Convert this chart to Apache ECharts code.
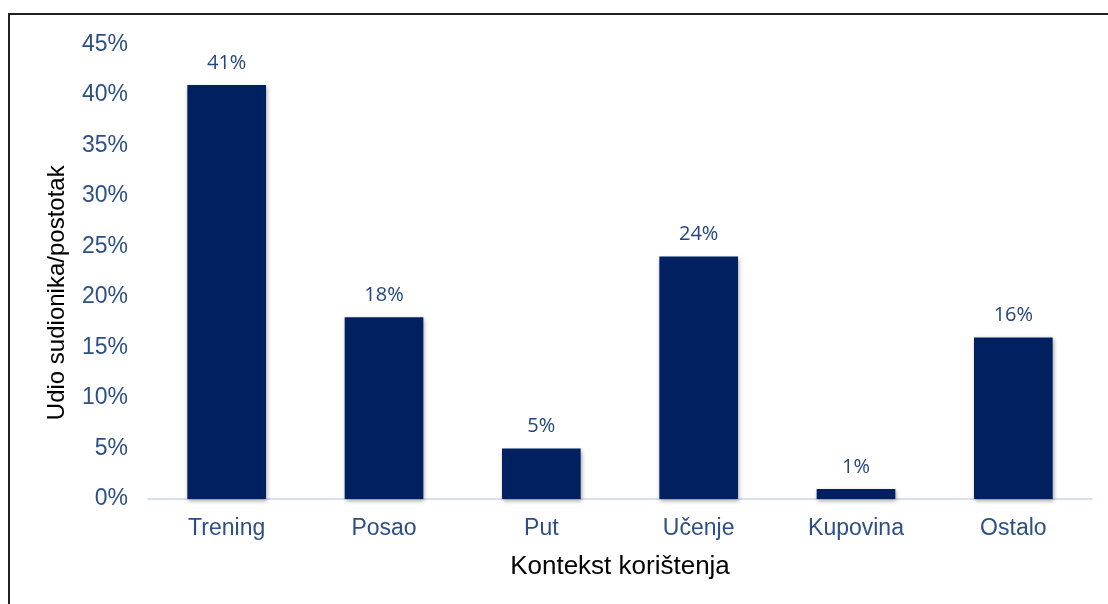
<!DOCTYPE html>
<html>
<head>
<meta charset="utf-8">
<script src="https://cdn.jsdelivr.net/npm/echarts@6/dist/echarts.min.js"></script>
<style>
  html, body { margin: 0; padding: 0; background: #fff; overflow: hidden; }
  #frame {
    position: absolute; left: 8px; top: 13px;
    width: 1200px; height: 700px;
    border: 2px solid #222;
  }
  #chart { position: absolute; left: 0; top: 0; width: 1108px; height: 604px; }
</style>
</head>
<body>
<div id="frame"></div>
<div id="chart"></div>
<script>
// kontekst korištenja (kategorije)
var categories = ["Trening", "Posao", "Put", "Učenje", "Kupovina", "Ostalo"];
// udio sudionika u postotcima
var shares = [41, 18, 5, 24, 1, 16];
var yMax = 45;
var yStep = 5;

var chart = echarts.init(document.getElementById("chart"));
chart.setOption({
  animation: false,
  grid: { left: 148, right: 16, top: 44.5, bottom: 105 },
  xAxis: {
    type: "category",
    data: categories,
    name: "Kontekst korištenja",
    nameLocation: "middle",
    nameGap: 55,
    nameTextStyle: { color: "#000", fontSize: 26, fontFamily: "Liberation Sans" },
    axisLine: { lineStyle: { color: "#d6e0f0", width: 2 } },
    axisTick: { show: false },
    axisLabel: { color: "#2c4f86", fontSize: 23, fontFamily: "Liberation Sans", margin: 18 }
  },
  yAxis: {
    type: "value",
    min: 0,
    max: yMax,
    interval: yStep,
    name: "Udio sudionika/postotak",
    nameLocation: "middle",
    nameGap: 79,
    nameTextStyle: { color: "#000", fontSize: 24, fontFamily: "Liberation Sans", padding: [0, 42, 0, 0] },
    splitLine: { show: false },
    axisLine: { show: false },
    axisTick: { show: false },
    axisLabel: {
      color: "#2c4f86", fontSize: 23, fontFamily: "Liberation Sans", margin: 20,
      formatter: "{value}%"
    }
  },
  series: [{
    type: "bar",
    data: shares,
    barCategoryGap: "50%",
    itemStyle: {
      color: "#00205f",
      shadowBlur: 4,
      shadowColor: "rgba(0,0,0,0.35)",
      shadowOffsetX: 1,
      shadowOffsetY: 2
    },
    label: {
      show: true,
      position: "top",
      distance: 12,
      formatter: "{c}%",
      color: "#24467d",
      fontSize: 20,
      fontFamily: "Open Sans"
    }
  }]
});
</script>
</body>
</html>
